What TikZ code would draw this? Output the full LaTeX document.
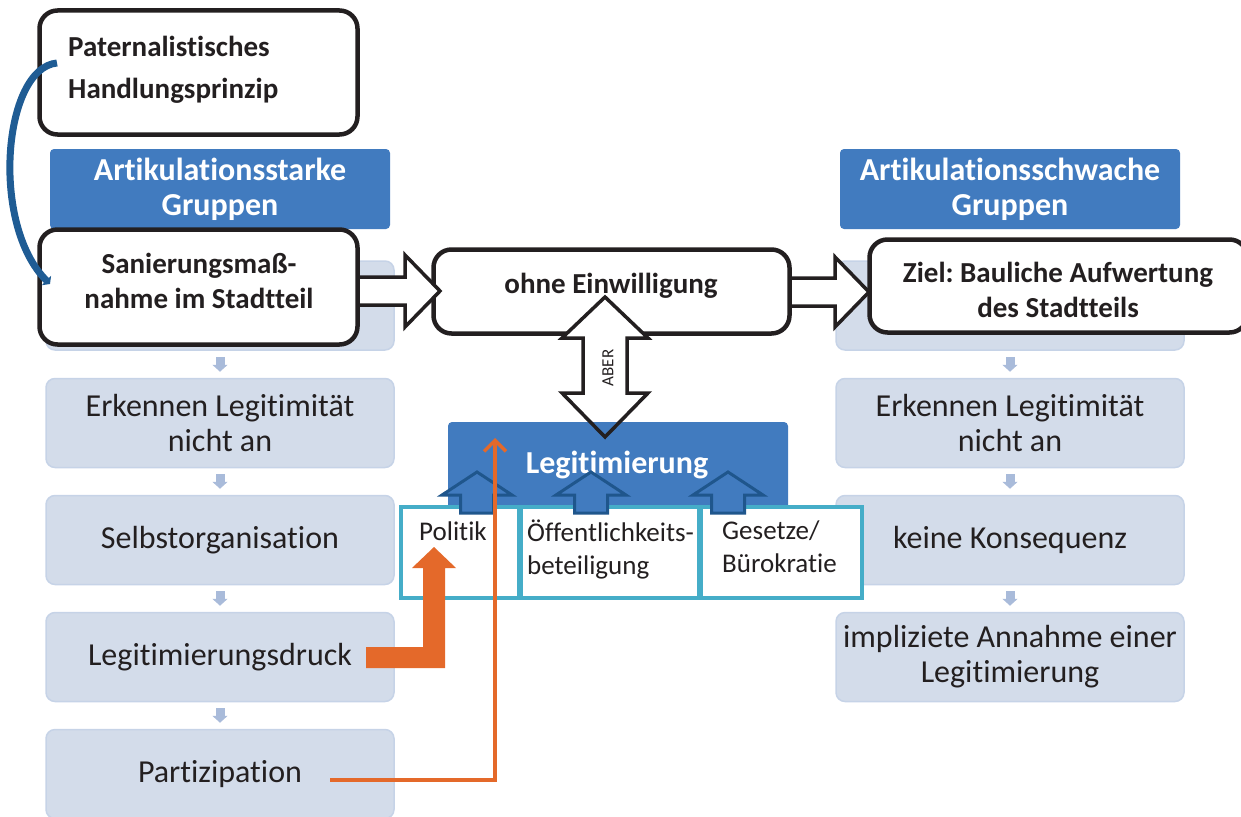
\documentclass[tikz,border=0pt]{standalone}
\usepackage{fontspec}
\setmainfont{Carlito}[Ligatures=NoCommon]
\usetikzlibrary{arrows.meta,calc}
\definecolor{ink}{HTML}{231F20}
\definecolor{headblue}{HTML}{417BBF}
\definecolor{paleblue}{HTML}{D3DCEA}
\definecolor{paleedge}{HTML}{C6D3E7}
\definecolor{stepblue}{HTML}{A9BBDA}
\definecolor{tealline}{HTML}{45ADC8}
\definecolor{navyline}{HTML}{1F568C}
\definecolor{curveblue}{HTML}{1F5C94}
\definecolor{legorange}{HTML}{E4692A}
\tikzset{
  stagebox/.style={fill=paleblue, draw=paleedge, line width=1.5pt, rounded corners=9pt,
    minimum width=348pt, minimum height=89pt, text width=345pt, align=flush center,
    inner sep=0pt, text=ink, font=\fontsize{32}{35}\selectfont},
  headbox/.style={fill=headblue, rounded corners=4pt, minimum width=340pt, minimum height=80pt,
    text=white, align=center, font=\bfseries\fontsize{32}{35}\selectfont, inner sep=0pt},
  whitebox/.style={fill=white, draw=ink, line width=4.5pt, rounded corners=18pt, inner sep=0pt},
  boldtext/.style={text=ink, font=\bfseries\fontsize{29}{35}\selectfont, align=center, inner sep=0pt},
  stepdown/.style={draw=stepblue, line width=9pt, -{Triangle[width=15pt,length=7pt]}},
  blockar/.style={fill=white, draw=ink, line width=3.5pt, line join=miter},
  pillarbox/.style={fill=white, draw=tealline, line width=3.5pt, inner sep=0pt,
    anchor=north west, minimum height=91pt},
  pillartext/.style={text=ink, font=\fontsize{27}{33}\selectfont, align=left, inner sep=0pt},
  uparrow/.style={fill=headblue, draw=navyline, line width=3pt, line join=miter},
}
% small up arrow into the Legitimierung bar, centred at x = #1
\newcommand\legitup[1]{%
  \draw[uparrow] (#1-16.5,513) -- (#1-16.5,495) -- (#1-35,495) -- (#1,472)
    -- (#1+35,495) -- (#1+16.5,495) -- (#1+16.5,513) -- cycle;}
\begin{document}
\frenchspacing
\begin{tikzpicture}[x=1pt,y=-1pt]
\useasboundingbox (0,0) rectangle (1241,816);
\clip (0,0) rectangle (1241,816);

% process columns
\node[stagebox] (l0) at (220,305.5) {};
\node[stagebox] (l1) at (220,423) {Erkennen Legitimität\\nicht an};
\node[stagebox] (l2) at (220,540) {Selbstorganisation};
\node[stagebox] (l3) at (220,657) {Legitimierungsdruck};
\node[stagebox] (l4) at (220,774) {Partizipation};
\node[stagebox] (r0) at (1010,305.5) {};
\node[stagebox] (r1) at (1010,423) {Erkennen Legitimität\\nicht an};
\node[stagebox] (r2) at (1010,540) {keine Konsequenz};
\node[stagebox] (r3) at (1010,657) {impliziete Annahme einer\\Legitimierung};
\foreach \a/\b in {l0/l1,l1/l2,l2/l3,l3/l4,r0/r1,r1/r2,r2/r3}
  \draw[stepdown] ([yshift=-6pt]\a.south) -- ([yshift=6pt]\b.north);

% group headings
\node[headbox] (hl) at (220,189) {Artikulationsstarke\\Gruppen};
\node[headbox] (hr) at (1010,189) {Artikulationsschwache\\Gruppen};

% framed boxes
\node[whitebox, minimum width=318pt, minimum height=124pt] (pat) at (198.5,72.5) {};
\node[boldtext, font=\bfseries\fontsize{29}{42}\selectfont, align=left, anchor=west] (pattxt)
  at (68,69.5) {Paternalistisches\\Handlungsprinzip};
\node[whitebox, minimum width=318pt, minimum height=115pt] (san) at (198.5,287) {};
\node[boldtext] (santxt) at (199,281) {Sanierungsmaß-\\nahme im Stadtteil};
\node[whitebox, minimum width=356pt, minimum height=84pt] (ohne) at (611.5,291.5) {};
\node[boldtext] (ohnetxt) at (611,285.5) {ohne Einwilligung};
\node[whitebox, minimum width=378pt, minimum height=93pt] (ziel) at (1058.5,286) {};
\node[boldtext] (zieltxt) at (1058,289.5) {Ziel: Bauliche Aufwertung\\des Stadtteils};

% block arrows between the framed boxes
\draw[blockar] (360,277) -- (405,277) -- (405,255) -- (440,291) -- (405,327) -- (405,305) -- (360,305);
\draw[blockar] (792,278) -- (835,278) -- (835,257) -- (869,292) -- (835,327) -- (835,306) -- (792,306);

% double arrow (fill below the bar, outline above it)
\fill[white] (583,338) -- (562,338) -- (605,297) -- (648,338) -- (627,338) -- (627,393)
  -- (648,393) -- (605,437) -- (562,393) -- (583,393) -- cycle;
\node[headbox, minimum height=88pt] (legit) at (618,466) {};
\node[text=white, font=\bfseries\fontsize{32}{34}\selectfont, inner sep=0pt] (legittxt)
  at (617,465) {Legitimierung};
\draw[blockar, fill=none] (583,338) -- (562,338) -- (605,297) -- (648,338) -- (627,338) -- (627,393)
  -- (648,393) -- (605,437) -- (562,393) -- (583,393) -- cycle;
\node[rotate=90, text=ink, font=\fontsize{17}{17}\selectfont, inner sep=0pt] (aber) at (608,368) {ABER};

% pillars of legitimation
\node[pillarbox, minimum width=118pt] (pol) at (399,505) {};
\node[pillarbox, minimum width=178pt] (oef) at (519,505) {};
\node[pillarbox, minimum width=161pt] (ges) at (699,505) {};
\node[pillartext] (poltxt) at (453,531) {Politik};
\node[pillartext, anchor=west] (oeftxt) at (527,549.5) {Öffentlichkeits-\\beteiligung};
\node[pillartext, anchor=west] (gestxt) at (722,547) {Gesetze/\\Bürokratie};
\legitup{477}
\legitup{591}
\legitup{728}

% pressure and participation paths
\fill[legorange] (366,647) -- (423,647) -- (423,568) -- (412,568) -- (434,547) -- (456,568)
  -- (445,568) -- (445,668) -- (366,668) -- cycle;
\coordinate (partstart) at (330,780);
\coordinate (partend) at (495,438);
\draw[legorange, line width=3.5pt, -{Straight Barb[length=11pt,width=22pt]}] (partstart) -| (partend);

% paternalistic principle acting on the measure
\draw[curveblue, line width=7pt, -{Triangle[width=13pt,length=5pt]}]
  (57,63) .. controls (3,68) and (-10,225) .. (50,284);
\end{tikzpicture}
\end{document}
